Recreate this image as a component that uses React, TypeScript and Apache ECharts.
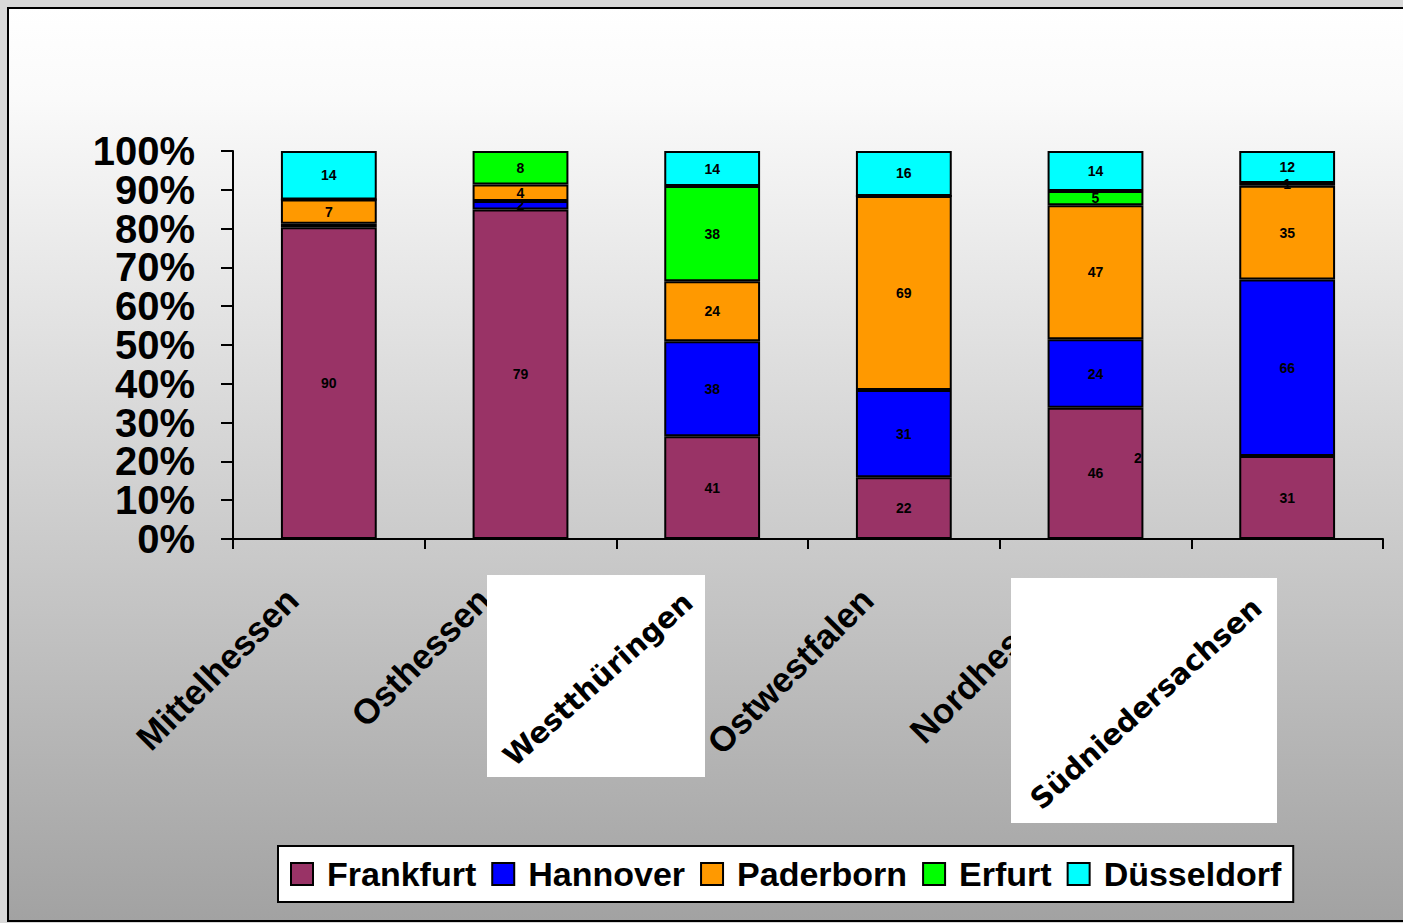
import { useEffect, useRef } from 'react';
import * as echarts from 'echarts';

const categories = ['Mittelhessen', 'Osthessen', 'Westthüringen', 'Ostwestfalen', 'Nordhessen', 'Südniedersachsen'];
const frankfurt = [90, 79, 41, 22, 46, 31];
const hannover = [1, 2, 38, 31, 24, 66];
const paderborn = [7, 4, 24, 69, 47, 35];
const erfurt = [0, 8, 38, 0, 5, 1];
const duesseldorf = [14, 0, 14, 16, 14, 12];
const seriesNames = ['Frankfurt', 'Hannover', 'Paderborn', 'Erfurt', 'Düsseldorf'];
const seriesColors = ['#993366', '#0000ff', '#ff9900', '#00ff00', '#00ffff'];
const yTicks = [0, 10, 20, 30, 40, 50, 60, 70, 80, 90, 100];
// labels drawn in boxes over the axis (image-like labels in the original)
const boxedCategories = [2, 5];
// label hidden in the original (series index, category index)
const hiddenLabels = [[1, 0]];
const strayLabel = '2';

const FONT = 'Liberation Sans, Arial, sans-serif';

export default function App() {
  const ref = useRef<HTMLDivElement>(null);
  useEffect(() => {
    const chart = echarts.init(ref.current!, null, { renderer: 'svg' });
    const allValues = [frankfurt, hannover, paderborn, erfurt, duesseldorf];
    const totals = categories.map((_, i) => allValues.reduce((s, arr) => s + arr[i], 0));
    const series = allValues.map((vals, si) => ({
      type: 'bar',
      name: seriesNames[si],
      stack: 'total',
      barWidth: '50%',
      yAxisIndex: 0,
      data: vals.map((v, ci) => {
        const hidden = hiddenLabels.some(([s, c]) => s === si && c === ci);
        return {
          value: (v / totals[ci]) * 100,
          raw: v,
          label: hidden ? { show: false } : undefined,
        };
      }),
      itemStyle: { color: seriesColors[si], borderColor: '#000', borderWidth: 2 },
      label: {
        show: true,
        position: 'inside',
        formatter: (p: any) => (p.data.raw === 0 ? '' : String(p.data.raw)),
        color: '#000',
        fontWeight: 'bold',
        fontSize: 14,
        fontFamily: FONT,
      },
    }));

    const boxes = [
      { x: 487, y: 575, w: 218, h: 202, idx: boxedCategories[0] },
      { x: 1011, y: 578, w: 266, h: 245, idx: boxedCategories[1] },
    ];

    const yMin = yTicks[0];
    const yMax = yTicks[yTicks.length - 1];
    const yLabelStyle = {
      margin: 38,
      color: '#000',
      fontSize: 40,
      fontWeight: 'bold',
      fontFamily: FONT,
      hideOverlap: false,
    };

    const option: any = {
      animation: false,
      backgroundColor: '#d9d9d9',
      grid: { left: 233, top: 151, width: 1150, height: 388, containLabel: false },
      xAxis: {
        type: 'category',
        data: categories,
        axisLine: { lineStyle: { color: '#000', width: 2 } },
        axisTick: { show: true, length: 10, lineStyle: { color: '#000', width: 2 } },
        axisLabel: {
          rotate: 45,
          margin: 18,
          interval: 0,
          color: '#000',
          fontSize: 35,
          fontWeight: 'bold',
          fontFamily: FONT,
          padding: [0, 52, 0, 0],
          formatter: (v: string, i: number) => (boxedCategories.includes(i) ? '' : v),
        },
      },
      yAxis: [
        {
          type: 'value',
          min: yMin,
          max: yMax,
          interval: 10,
          splitLine: { show: false },
          axisLine: { show: true, lineStyle: { color: '#000', width: 2 } },
          axisTick: { show: true, length: 12, lineStyle: { color: '#000', width: 2 } },
          axisLabel: {
            ...yLabelStyle,
            formatter: (v: number) => (v === yMin || v === yMax ? '' : `${v}%`),
          },
        },
        {
          type: 'value',
          position: 'left',
          min: yMin,
          max: yMax,
          interval: 10,
          splitLine: { show: false },
          axisLine: { show: false },
          axisTick: { show: false },
          axisLabel: {
            ...yLabelStyle,
            showMinLabel: true,
            showMaxLabel: true,
            formatter: (v: number) => (v === yMin || v === yMax ? `${v}%` : ''),
          },
        },
      ],
      legend: {
        data: seriesNames,
        left: 278,
        top: 846,
        icon: 'rect',
        itemWidth: 22,
        itemHeight: 22,
        itemGap: 15,
        padding: [11, 12, 11, 12],
        backgroundColor: '#fff',
        borderColor: '#000',
        borderWidth: 2,
        borderRadius: 0,
        textStyle: {
          fontSize: 34,
          fontWeight: 'bold',
          fontFamily: FONT,
          color: '#000',
          padding: [0, 0, 0, 9],
        },
      },
      graphic: [
        {
          type: 'rect',
          z: -10,
          silent: true,
          shape: { x: 8, y: 8, width: 1410, height: 913 },
          style: {
            fill: {
              type: 'linear', x: 0, y: 0, x2: 0, y2: 1,
              colorStops: [
                { offset: 0, color: '#ffffff' },
                { offset: 0.1, color: '#fafafa' },
                { offset: 1, color: '#a2a2a2' },
              ],
            },
            stroke: '#000',
            lineWidth: 2,
          },
        },
        ...boxes.map((b) => ({
          type: 'group',
          z: 100,
          children: [
            {
              type: 'rect',
              z: 100,
              shape: { x: b.x, y: b.y, width: b.w, height: b.h },
              style: { fill: '#fff' },
            },
            {
              type: 'text',
              z: 101,
              x: b.x + b.w / 2 + 2,
              y: b.y + b.h / 2 + 3,
              rotation: (42 * Math.PI) / 180,
              style: {
                text: categories[b.idx],
                fill: '#000',
                font: 'bold 29px "DejaVu Sans", sans-serif',
                textAlign: 'center',
                textVerticalAlign: 'middle',
              },
            },
          ],
        })),
        {
          type: 'text',
          z: 100,
          x: 1138,
          y: 458,
          style: {
            text: strayLabel,
            fill: '#000',
            font: `bold 14px ${FONT}`,
            textAlign: 'center',
            textVerticalAlign: 'middle',
          },
        },
      ],
      series,
    };
    chart.setOption(option);
    return () => chart.dispose();
  }, []);
  return (
    <div
      ref={ref}
      style={{ position: 'fixed', left: 0, top: 0, width: 1403, height: 923 }}
    />
  );
}
